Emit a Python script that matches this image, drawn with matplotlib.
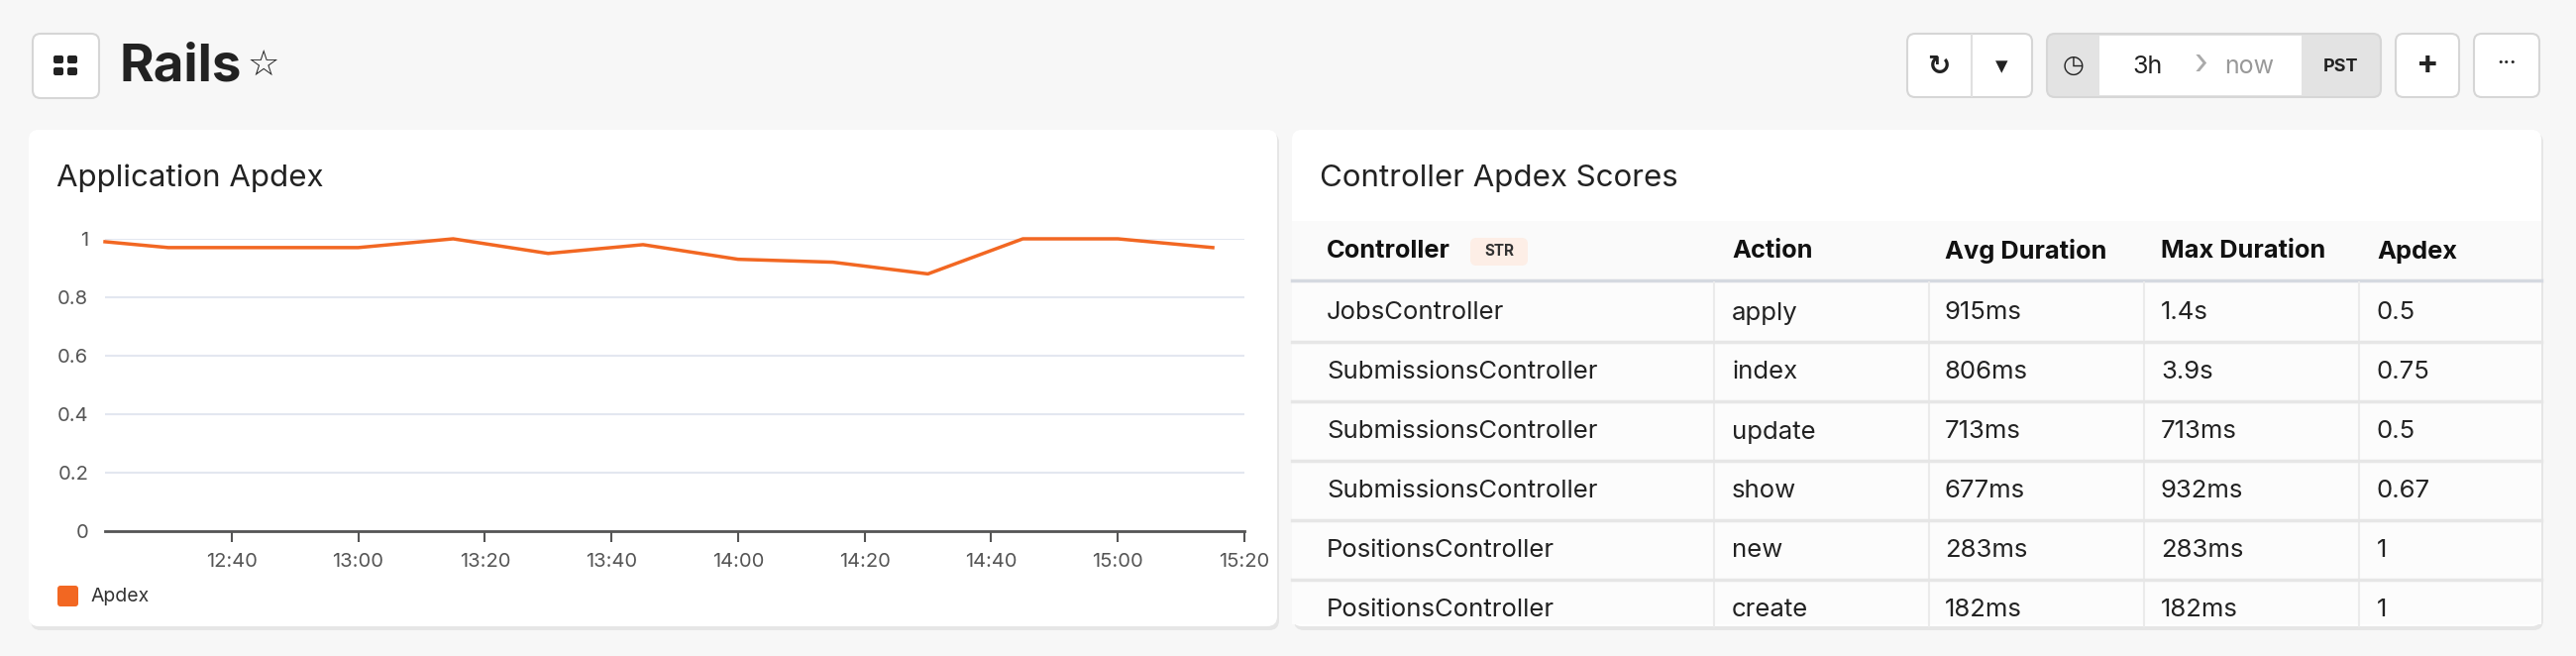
import matplotlib
matplotlib.use("Agg")
import matplotlib.pyplot as plt
from matplotlib.patches import FancyBboxPatch, Rectangle

plt.rcParams['font.family'] = ['Inter', 'DejaVu Sans']

# ---- data ----
times_min = [20, 30, 45, 60, 75, 90, 105, 120, 135, 150, 165, 180, 195]  # minutes after 12:00
apdex = [0.99, 0.97, 0.97, 0.97, 1.0, 0.95, 0.98, 0.93, 0.92, 0.88, 1.0, 1.0, 0.97]
xtick_min = [40, 60, 80, 100, 120, 140, 160, 180, 200]
xtick_labels = ["12:40", "13:00", "13:20", "13:40", "14:00", "14:20", "14:40", "15:00", "15:20"]
ytick_vals = [0, 0.2, 0.4, 0.6, 0.8, 1]
ytick_labels = ["0", "0.2", "0.4", "0.6", "0.8", "1"]

columns = ["Controller", "Action", "Avg Duration", "Max Duration", "Apdex"]
controllers = ["JobsController", "SubmissionsController", "SubmissionsController",
               "SubmissionsController", "PositionsController", "PositionsController"]
actions = ["apply", "index", "update", "show", "new", "create"]
avg_dur = ["915ms", "806ms", "713ms", "677ms", "283ms", "182ms"]
max_dur = ["1.4s", "3.9s", "713ms", "932ms", "283ms", "182ms"]
apdex_scores = ["0.5", "0.75", "0.5", "0.67", "1", "1"]

W, H = 2600, 662
fig = plt.figure(figsize=(26, 6.62), dpi=100)
fig.patch.set_facecolor("#f7f7f7")
bg = fig.add_axes([0, 0, 1, 1])
bg.set_xlim(0, W); bg.set_ylim(H, 0); bg.axis("off")
bg.set_facecolor("none")

def rbox(x0, y0, x1, y1, fc, ec="none", r=8, lw=1.5, z=1):
    bg.add_patch(FancyBboxPatch((x0 + r, y0 + r), x1 - x0 - 2 * r, y1 - y0 - 2 * r,
                                boxstyle=f"round,pad={r}", fc=fc, ec=ec, lw=lw, zorder=z))

# header
rbox(33, 34, 100, 99, "white", "#d6d6d6")
for dx in (-7, 7):
    for dy in (-6, 6):
        rbox(66 + dx - 5, 66 + dy - 4, 66 + dx + 5, 66 + dy + 4, "#222", r=2, z=3)
bg.text(121, 68, "Rails", fontsize=38, fontweight="bold", color="#222", va="center", ha="left")
bg.text(250, 66, "☆", fontsize=26, color="#222", va="center", ha="left", family="DejaVu Sans")

rbox(1925, 34, 2051, 98, "white", "#d6d6d6")
bg.plot([1990, 1990], [35, 97], color="#e0e0e0", lw=1.5)
bg.text(1957, 67, "↻", fontsize=20, fontweight="bold", color="#222", ha="center", va="center", family="DejaVu Sans")
bg.text(2020, 67, "▾", fontsize=18, color="#222", ha="center", va="center", family="DejaVu Sans")
rbox(2066, 34, 2403, 98, "#e3e3e3", "#d6d6d6")
bg.add_patch(Rectangle((2119, 36), 204, 60, fc="white", ec="none", zorder=2))
bg.text(2093, 66, "◷", fontsize=18, color="#222", ha="center", va="center", family="DejaVu Sans")
bg.text(2168, 67, "3h", fontsize=18, color="#222", ha="center", va="center")
bg.text(2222, 66, "›", fontsize=26, color="#aaa", ha="center", va="center")
bg.text(2270, 67, "now", fontsize=18, color="#999", ha="center", va="center")
bg.text(2363, 67, "PST", fontsize=13, fontweight="bold", color="#222", ha="center", va="center")
rbox(2418, 34, 2482, 98, "white", "#d6d6d6")
bg.text(2450, 66, "+", fontsize=24, fontweight="bold", color="#222", ha="center", va="center")
rbox(2497, 34, 2563, 98, "white", "#d6d6d6")
bg.text(2530, 64, "···", fontsize=14, fontweight="bold", color="#222", ha="center", va="center")

# panels
for x0, x1 in ((29, 1289), (1304, 2565)):
    rbox(x0 + 2, 134, x1 + 2, 636, "#e6e6e6", r=10, z=0)
    rbox(x0, 131, x1, 632, "white", r=10, z=1)

bg.text(57, 180, "Application Apdex", fontsize=22.5, color="#222", va="center", ha="left")
bg.text(1332, 180, "Controller Apdex Scores", fontsize=22.5, color="#222", va="center", ha="left")

# legend
rbox(58, 591, 79, 612, "#f26722", r=3, z=3)
bg.text(91, 602, "Apdex", fontsize=14, color="#333", va="center", ha="left")

# chart
ax = fig.add_axes([106 / W, 1 - 536 / H, 1150 / W, 295 / H])
ax.set_facecolor("none")
ax.plot(times_min, apdex, color="#f26722", lw=2.5, clip_on=False, zorder=3)
ax.set_xlim(20, 200)
ax.set_ylim(0, 1)
ax.set_yticks(ytick_vals, ytick_labels)
ax.set_xticks(xtick_min, xtick_labels)
ax.grid(axis="y", color="#e3e7f0", lw=1.5)
ax.tick_params(axis="y", length=0, pad=12, labelsize=14.5, labelcolor="#555")
ax.tick_params(axis="x", length=8, width=1.5, color="#555", pad=8, labelsize=14.5, labelcolor="#555")
for s in ("top", "right", "left"):
    ax.spines[s].set_visible(False)
ax.spines["bottom"].set_color("#555")
ax.spines["bottom"].set_linewidth(2)

# table
bg.add_patch(Rectangle((1304, 223), 1261, 59, fc="#fafafa", ec="none", zorder=2))
bg.plot([1304, 2565], [283, 283], color="#d5d9e0", lw=2.5, zorder=3)
bg.add_patch(Rectangle((1304, 285), 1261, 345, fc="#fcfcfc", ec="none", zorder=2))
col_x = [1339, 1748, 1963, 2181, 2399]
sep_x = [1730, 1947, 2164, 2381]
row_h = 60
first_top = 285
nrows = len(controllers)
for xs in sep_x:
    bg.plot([xs, xs], [first_top, 632], color="#ebebeb", lw=1.5, zorder=3)
for i in range(1, nrows):
    y = first_top + i * row_h
    bg.plot([1304, 2565], [y, y], color="#e6e6e6", lw=2.5, zorder=3)
for c, x in zip(columns, col_x):
    bg.text(x, 254, c, fontsize=18.3, fontweight="bold", color="#111", va="center", ha="left", zorder=4)
rbox(1484, 240, 1542, 268, "#fdeee6", r=6, z=3)
bg.text(1513, 254, "STR", fontsize=11, fontweight="bold", color="#333", va="center", ha="center", zorder=4)
for i in range(nrows):
    yc = first_top + i * row_h + 31
    vals = [controllers[i], actions[i], avg_dur[i], max_dur[i], apdex_scores[i]]
    for v, x in zip(vals, col_x):
        bg.text(x, yc, v, fontsize=18.5, color="#222", va="center", ha="left", zorder=4)

fig.savefig("out.png", dpi=100, facecolor=fig.get_facecolor())
